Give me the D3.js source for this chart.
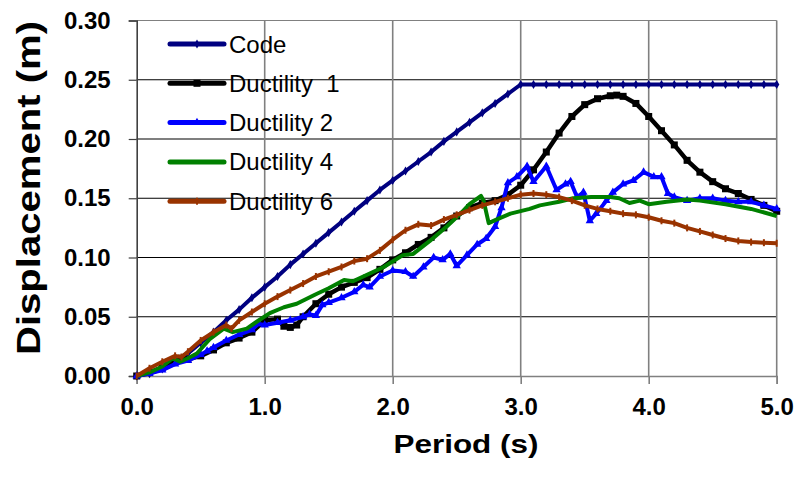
<!DOCTYPE html>
<html><head><meta charset="utf-8">
<script src="https://cdn.jsdelivr.net/npm/d3@7"></script>
<style>
html,body{margin:0;padding:0;background:#fff;}
svg{display:block;font-family:"Liberation Sans",Arial,sans-serif;}
</style></head>
<body><svg id="chart" width="798" height="481"></svg>
<script>
// ---- data ----
const seriesNames = ["Code", "Ductility  1", "Ductility 2", "Ductility 4", "Ductility 6"];
const xTickValues = [0, 1, 2, 3, 4, 5];
const yTickValues = [0, 0.05, 0.10, 0.15, 0.20, 0.25, 0.30];

const periodCode = [0,0.1,0.2,0.3,0.4,0.5,0.6,0.7,0.8,0.9,1.0,1.1,1.2,1.3,1.4,1.5,1.6,1.7,1.8,1.9,2.0,2.1,2.2,2.3,2.4,2.5,2.6,2.7,2.8,2.9,3.0,3.1,3.2,3.3,3.4,3.5,3.6,3.7,3.8,3.9,4.0,4.1,4.2,4.3,4.4,4.5,4.6,4.7,4.8,4.9,5.0];
const dispCode = [0,0.002,0.006,0.012,0.019,0.028,0.037,0.047,0.056,0.066,0.075,0.084,0.094,0.103,0.112,0.121,0.130,0.139,0.148,0.157,0.165,0.173,0.181,0.189,0.198,0.206,0.214,0.222,0.230,0.238,0.246,0.246,0.246,0.246,0.246,0.246,0.246,0.246,0.246,0.246,0.246,0.246,0.246,0.246,0.246,0.246,0.246,0.246,0.246,0.246,0.246];

const periodD1 = [0,0.1,0.2,0.3,0.35,0.4,0.5,0.6,0.7,0.8,0.9,1.0,1.1,1.15,1.2,1.25,1.3,1.4,1.5,1.6,1.7,1.8,1.9,2.0,2.1,2.2,2.3,2.4,2.5,2.6,2.7,2.8,2.9,3.0,3.1,3.2,3.3,3.4,3.5,3.6,3.7,3.75,3.8,3.9,4.0,4.1,4.2,4.3,4.4,4.5,4.6,4.7,4.8,4.9,5.0];
const dispD1 = [0,0.003,0.007,0.014,0.015,0.014,0.017,0.022,0.028,0.032,0.037,0.047,0.048,0.042,0.041,0.043,0.050,0.061,0.069,0.075,0.079,0.083,0.090,0.098,0.104,0.111,0.117,0.125,0.135,0.142,0.146,0.148,0.153,0.161,0.174,0.189,0.205,0.219,0.229,0.234,0.2365,0.237,0.236,0.230,0.219,0.207,0.195,0.182,0.172,0.164,0.158,0.154,0.149,0.144,0.139];

const periodD2 = [0,0.1,0.2,0.3,0.4,0.5,0.55,0.6,0.7,0.8,0.9,0.95,1.0,1.1,1.2,1.3,1.35,1.4,1.45,1.5,1.6,1.7,1.77,1.82,1.9,2.0,2.1,2.16,2.24,2.32,2.39,2.45,2.5,2.58,2.66,2.73,2.8,2.85,2.9,2.97,3.05,3.1,3.2,3.28,3.35,3.39,3.44,3.49,3.54,3.59,3.67,3.72,3.8,3.88,3.96,4.04,4.1,4.15,4.2,4.3,4.4,4.5,4.6,4.7,4.8,4.9,5.0];
const dispD2 = [0,0.002,0.005,0.010,0.013,0.018,0.021,0.024,0.030,0.035,0.039,0.044,0.043,0.045,0.047,0.050,0.052,0.051,0.060,0.062,0.066,0.071,0.077,0.075,0.084,0.089,0.088,0.084,0.092,0.100,0.098,0.103,0.093,0.102,0.111,0.116,0.126,0.142,0.163,0.168,0.177,0.164,0.177,0.157,0.162,0.164,0.151,0.155,0.131,0.137,0.148,0.155,0.162,0.165,0.172,0.168,0.168,0.154,0.151,0.148,0.150,0.150,0.148,0.147,0.147,0.144,0.141];

const periodD4 = [0,0.1,0.2,0.28,0.34,0.4,0.47,0.57,0.68,0.75,0.86,0.94,1.04,1.15,1.25,1.4,1.5,1.62,1.69,1.77,1.93,2.08,2.16,2.29,2.42,2.53,2.6,2.69,2.71,2.75,2.81,2.92,3.07,3.15,3.3,3.41,3.55,3.7,3.77,3.85,3.93,4.0,4.14,4.3,4.4,4.6,4.8,5.0];
const dispD4 = [0,0.003,0.008,0.015,0.012,0.015,0.019,0.031,0.040,0.037,0.040,0.046,0.053,0.058,0.061,0.069,0.074,0.081,0.080,0.084,0.092,0.102,0.103,0.114,0.126,0.137,0.145,0.152,0.148,0.129,0.132,0.137,0.141,0.144,0.147,0.150,0.151,0.151,0.150,0.146,0.148,0.145,0.147,0.149,0.148,0.145,0.141,0.135];

const periodD6 = [0,0.1,0.2,0.3,0.35,0.4,0.5,0.6,0.7,0.74,0.8,0.9,1.0,1.1,1.2,1.3,1.4,1.5,1.6,1.7,1.8,1.9,2.0,2.1,2.2,2.3,2.4,2.5,2.6,2.7,2.8,2.9,3.0,3.1,3.2,3.3,3.4,3.5,3.6,3.7,3.8,3.9,4.0,4.1,4.2,4.3,4.4,4.5,4.6,4.7,4.8,4.9,5.0];
const dispD6 = [0,0.0065,0.012,0.017,0.016,0.0205,0.030,0.037,0.043,0.040,0.047,0.054,0.061,0.067,0.0725,0.078,0.084,0.088,0.092,0.097,0.099,0.106,0.115,0.123,0.128,0.127,0.132,0.136,0.140,0.144,0.147,0.150,0.153,0.154,0.153,0.151,0.148,0.144,0.141,0.139,0.137,0.136,0.134,0.131,0.129,0.125,0.122,0.119,0.116,0.114,0.113,0.1125,0.112];

const colors = ["#000080", "#000000", "#0000FF", "#008000", "#993300"];
const markers = ["diamond", "square", "triangle", "none", "dash"];

// ---- layout ----
const svg = d3.select("#chart");
const x = d3.scaleLinear().domain([0, 5]).range([136.7, 776.7]);
const y = d3.scaleLinear().domain([0, 0.30]).range([376, 20.5]);

const g = svg.append("g");

// horizontal gridlines (black)
g.selectAll("line.hgrid").data(yTickValues.filter(v => v > 0)).enter().append("line")
  .attr("x1", x(0)).attr("x2", x(5)).attr("y1", d => y(d)).attr("y2", d => y(d))
  .attr("stroke", d => d === 0.30 ? "#808080" : "#000").attr("stroke-width", 1.2);
// vertical gridlines (gray)
g.selectAll("line.vgrid").data(xTickValues.filter(v => v > 0)).enter().append("line")
  .attr("x1", d => x(d)).attr("x2", d => x(d)).attr("y1", y(0.30)).attr("y2", y(0))
  .attr("stroke", "#808080").attr("stroke-width", 1.6);

// axes
const xAxis = d3.axisBottom(x).tickValues(xTickValues).tickFormat(d3.format(".1f")).tickSize(8).tickPadding(14);
const yAxis = d3.axisLeft(y).tickValues(yTickValues).tickFormat(d3.format(".2f")).tickSize(8).tickPadding(18);
const gx = svg.append("g").attr("transform", `translate(0,${y(0)})`).call(xAxis);
const gy = svg.append("g").attr("transform", `translate(${x(0)},0)`).call(yAxis);
gx.select(".domain").attr("stroke", "#808080").attr("stroke-width", 1.6);
gx.selectAll(".tick line").attr("stroke", "#808080").attr("stroke-width", 1.6);
gy.select(".domain").attr("stroke", "#404040").attr("stroke-width", 1.6);
gy.selectAll(".tick line").attr("stroke", "#404040").attr("stroke-width", 1.2);
[gx, gy].forEach(a => a.selectAll(".tick text")
  .attr("font-family", "'Liberation Sans', Arial, sans-serif")
  .attr("font-weight", "bold").attr("font-size", 24).attr("fill", "#000"));

// axis titles
svg.append("text").attr("x", 466).attr("y", 453).attr("text-anchor", "middle")
  .attr("font-weight", "bold").attr("font-size", 26)
  .attr("textLength", 145).attr("lengthAdjust", "spacingAndGlyphs")
  .text("Period (s)");
svg.append("text").attr("transform", "translate(40,188) rotate(-90)").attr("text-anchor", "middle")
  .attr("font-weight", "bold").attr("font-size", 34)
  .attr("textLength", 334).attr("lengthAdjust", "spacingAndGlyphs")
  .text("Displacement (m)");

// series
const allSeries = [
  {p: periodCode, d: dispCode},
  {p: periodD1, d: dispD1},
  {p: periodD2, d: dispD2},
  {p: periodD4, d: dispD4},
  {p: periodD6, d: dispD6}
].map((s, i) => ({name: seriesNames[i], color: colors[i], marker: markers[i],
  pts: s.p.map((t, k) => [t, s.d[k]])}));

const line = d3.line().x(d => x(d[0])).y(d => y(d[1]));

function drawMarker(sel, type, color) {
  if (type === "diamond") {
    sel.append("path").attr("d", d3.symbol().type(d3.symbolDiamond).size(24)).attr("fill", color);
  } else if (type === "square") {
    sel.append("rect").attr("x", -3.5).attr("y", -3.5).attr("width", 7).attr("height", 7).attr("fill", color);
  } else if (type === "triangle") {
    sel.append("path").attr("d", d3.symbol().type(d3.symbolTriangle).size(30)).attr("fill", color);
  } else if (type === "dash") {
    sel.append("rect").attr("x", -1).attr("y", -3.5).attr("width", 2).attr("height", 7).attr("fill", color);
  }
}

allSeries.forEach((s, i) => {
  const sg = svg.append("g");
  sg.append("path").datum(s.pts).attr("d", line).attr("fill", "none")
    .attr("stroke", s.color).attr("stroke-width", i === 1 ? 4.5 : 4).attr("stroke-linejoin", "round");
  if (s.marker !== "none") {
    const m = sg.selectAll("g.m").data(s.pts).enter().append("g")
      .attr("transform", d => `translate(${x(d[0])},${y(d[1])})`);
    drawMarker(m, s.marker, s.color);
  }
});

// legend
const leg = svg.append("g").attr("transform", "translate(170,44)");
allSeries.forEach((s, i) => {
  const row = leg.append("g").attr("transform", `translate(0,${i * 39.3})`);
  row.append("line").attr("x1", 0).attr("x2", 54).attr("y1", 0).attr("y2", 0)
    .attr("stroke", s.color).attr("stroke-width", 5).attr("stroke-linecap", "round");
  if (s.marker !== "none") {
    const m = row.append("g").attr("transform", "translate(27,0)");
    drawMarker(m, s.marker, s.color);
  }
  row.append("text").attr("x", 59).attr("y", 8.5).attr("font-size", 24).attr("fill", "#000")
    .attr("xml:space", "preserve").style("white-space", "pre").text(s.name);
});
</script></body></html>
